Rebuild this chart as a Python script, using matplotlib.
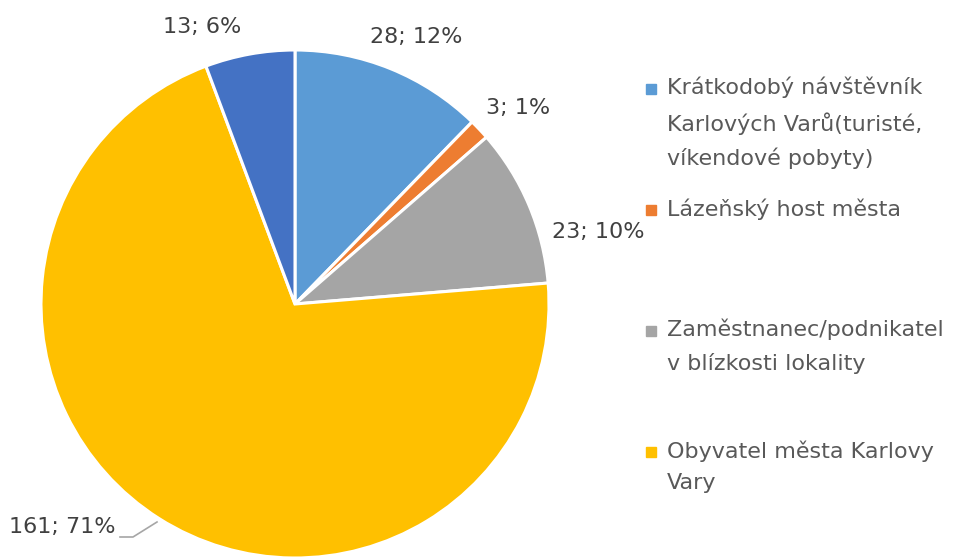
import matplotlib.pyplot as plt

# data
values = [28, 3, 23, 161, 13]
colors = ['#5B9BD5', '#ED7D31', '#A5A5A5', '#FFC000', '#4472C4']
legend_labels = [
    'Krátkodobý návštěvník\nKarlových Varů(turisté,\nvíkendové pobyty)',
    'Lázeňský host města',
    'Zaměstnanec/podnikatel\nv blízkosti lokality',
    'Obyvatel města Karlovy\nVary',
]
total = sum(values)
label_texts = ['{}; {:.0f}%'.format(v, 100 * v / total) for v in values]

# label positions in pixels (layout)
label_pos = [(416, 37), (518, 108), (598, 232), (62, 527), (202, 27)]

W, H = 958, 557
fig = plt.figure(figsize=(W / 100, H / 100), dpi=100)
ax = fig.add_axes([0, 0, 1, 1])
ax.set_xlim(0, W)
ax.set_ylim(0, H)
ax.axis('off')

ax.pie(values, colors=colors, startangle=90, counterclock=False,
       center=(295, H - 304), radius=254,
       wedgeprops=dict(edgecolor='white', linewidth=2.2))
ax.set_xlim(0, W)
ax.set_ylim(0, H)
ax.set_aspect('equal')

fs = 16
for txt, (x, y) in zip(label_texts, label_pos):
    ax.text(x, H - y, txt, ha='center', va='center', fontsize=fs,
            color='#404040', family='DejaVu Sans')

# leader line for the big slice
ax.plot([120, 133, 157], [H - 537, H - 537, H - 522], color='#A6A6A6', lw=1.2)

# legend drawn by hand
leg_y = [89, 210, 331, 452]
for lab, col, y in zip(legend_labels, colors, leg_y):
    ax.plot([651], [H - y], marker='s', markersize=7.3, color=col, linestyle='none')
    ax.text(667, H - y + 12, lab, ha='left', va='top', fontsize=fs,
            color='#595959', family='DejaVu Sans', linespacing=1.72)

fig.savefig('out.png', dpi=100)
